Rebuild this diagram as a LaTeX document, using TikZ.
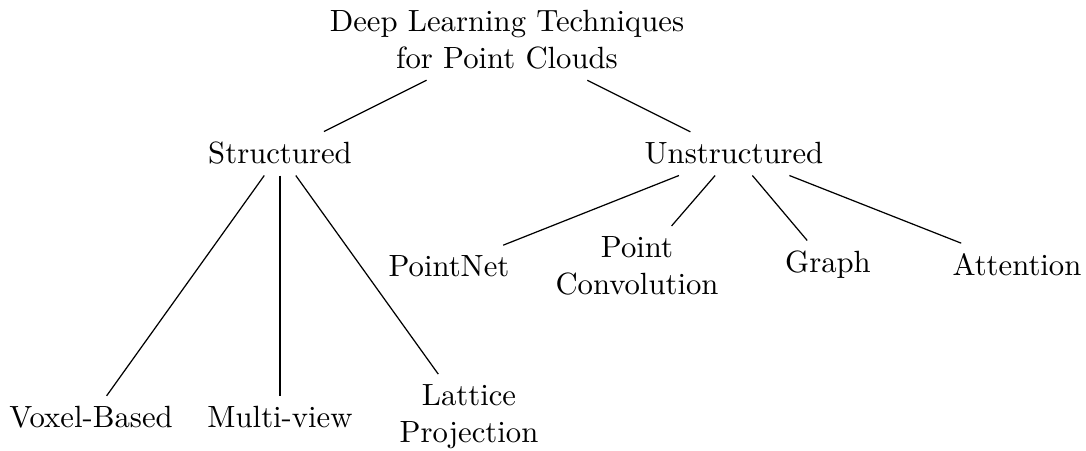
\documentclass[tikz,border=0pt]{standalone}
\begin{document}
\begin{tikzpicture}[x=0.3257pt,y=-0.3257pt,
  lbl/.style={inner sep=3.33pt, align=center},
  edge/.style={draw=black, line width=0.4pt}]
\useasboundingbox (0,0) rectangle (1086,451);
\node[lbl] (root) at (507,40) {Deep Learning Techniques\\for Point Clouds};
\node[lbl,anchor=base] (st) at (280,164) {Structured};
\node[lbl,anchor=base] (un) at (734,164) {Unstructured};
\node[lbl,anchor=base] (vox) at (91,428) {Voxel-Based};
\node[lbl,anchor=base] (mv) at (280,428) {Multi-view};
\node[lbl] (lat) at (469,417) {Lattice\\Projection};
\node[lbl,anchor=base] (pn) at (449,277) {PointNet};
\node[lbl] (pc) at (637,266) {Point\\Convolution};
\node[lbl,anchor=base] (gr) at (828,273) {Graph};
\node[lbl,anchor=base] (att) at (1017,276) {Attention};
\draw[edge] (root) -- (st);
\draw[edge] (root) -- (un);
\draw[edge] (st) -- (vox);
\draw[edge] (st) -- (mv);
\draw[edge] (st) -- (lat);
\draw[edge] (un) -- (pn);
\draw[edge] (un) -- (pc);
\draw[edge] (un) -- (gr);
\draw[edge] (un) -- (att);
\end{tikzpicture}
\end{document}
